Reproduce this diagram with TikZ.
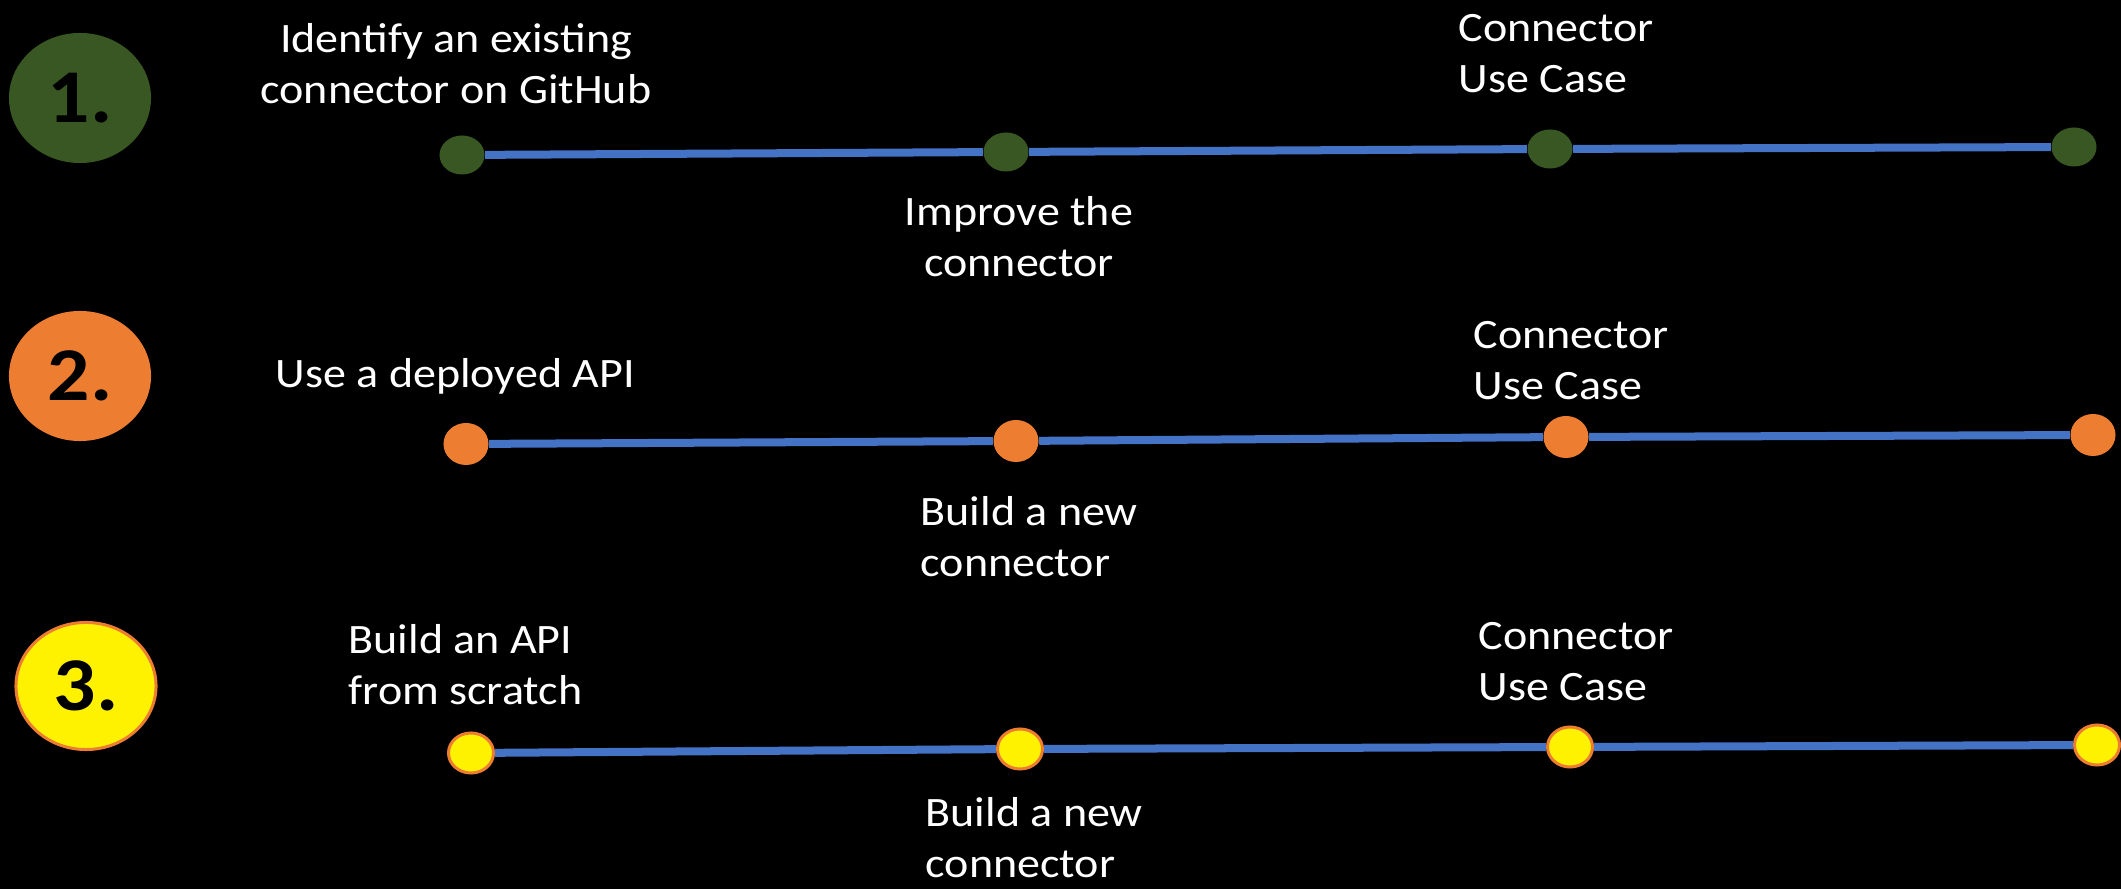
\documentclass[tikz,border=0pt]{standalone}
\usepackage{fontspec}
\setmainfont{Carlito}[FakeStretch=1.1]
\usetikzlibrary{shapes.geometric}

\definecolor{darkgreen}{HTML}{385723}
\definecolor{accentorange}{HTML}{ED7D31}
\definecolor{lineblue}{HTML}{4472C4}

\tikzset{
  badge/.style={ellipse, inner sep=0pt, minimum width=1.42cm, minimum height=1.30cm,
    text=black, font=\fontsize{21.6}{26}\selectfont\bfseries},
  milestone/.style={ellipse, inner sep=0pt, minimum width=0.45cm, minimum height=0.39cm},
  track/.style={draw=lineblue, line width=0.08cm},
  stagetext/.style={text=white, inner sep=0pt, align=left, font=\fontsize{11.9}{14.6}\selectfont},
}

\begin{document}
\begin{tikzpicture}[x=0.01cm, y=-0.01cm]
  % Black background, also fixes the page size
  \fill[black] (0,0) rectangle (2121,889);
  \useasboundingbox (0,0) rectangle (2121,889);

  % Path 1: existing connector on GitHub
  \node[badge, fill=darkgreen] (one) at (80,98) {1.};
  \node[milestone, fill=darkgreen] (p11) at (462,155) {};
  \node[milestone, fill=darkgreen] (p12) at (1006,152) {};
  \node[milestone, fill=darkgreen] (p13) at (1550,149) {};
  \node[milestone, fill=darkgreen] (p14) at (2074,147) {};
  \draw[track] (p11) -- (p12);
  \draw[track] (p12) -- (p13);
  \draw[track] (p13) -- (p14);

  % multi-line texts sit on the baseline of their last line
  \node[stagetext, align=center, anchor=base] (t11) at (456,104) {Identify an existing\\connector on GitHub};
  \node[stagetext, align=center, anchor=base] (t12) at (1019,277) {Improve the\\connector};
  \node[stagetext, anchor=base west] (t13) at (1458,93) {Connector\\Use Case};

  % Path 2: deployed API, new connector
  \node[badge, fill=accentorange] (two) at (80,376) {2.};
  \node[milestone, fill=accentorange, minimum height=0.42cm] (p21) at (466,444) {};
  \node[milestone, fill=accentorange, minimum height=0.42cm] (p22) at (1016,441) {};
  \node[milestone, fill=accentorange, minimum height=0.42cm] (p23) at (1566,437) {};
  \node[milestone, fill=accentorange, minimum height=0.42cm] (p24) at (2093,435) {};
  \draw[track] (p21) -- (p22);
  \draw[track] (p22) -- (p23);
  \draw[track] (p23) -- (p24);

  \node[stagetext, anchor=base west] (t21) at (275,388) {Use a deployed API};
  \node[stagetext, anchor=base west] (t22) at (920,577) {Build a new\\connector};
  \node[stagetext, anchor=base west] (t23) at (1473,400) {Connector\\Use Case};

  % Path 3: API built from scratch (yellow with orange rim)
  \node[badge, fill=yellow, draw=accentorange, line width=0.03cm,
        minimum width=1.40cm, minimum height=1.27cm] (three) at (86,686) {3.};
  \node[milestone, fill=yellow, draw=accentorange, line width=0.03cm, minimum height=0.40cm] (p31) at (471,753) {};
  \node[milestone, fill=yellow, draw=accentorange, line width=0.03cm, minimum height=0.40cm] (p32) at (1020,749) {};
  \node[milestone, fill=yellow, draw=accentorange, line width=0.03cm, minimum height=0.40cm] (p33) at (1570,747) {};
  \node[milestone, fill=yellow, draw=accentorange, line width=0.03cm, minimum height=0.40cm] (p34) at (2097,745) {};
  \draw[track] (p31) -- (p32);
  \draw[track] (p32) -- (p33);
  \draw[track] (p33) -- (p34);

  \node[stagetext, anchor=base west] (t31) at (348,705) {Build an API\\from scratch};
  \node[stagetext, anchor=base west] (t32) at (925,878) {Build a new\\connector};
  \node[stagetext, anchor=base west] (t33) at (1478,701) {Connector\\Use Case};
\end{tikzpicture}
\end{document}
